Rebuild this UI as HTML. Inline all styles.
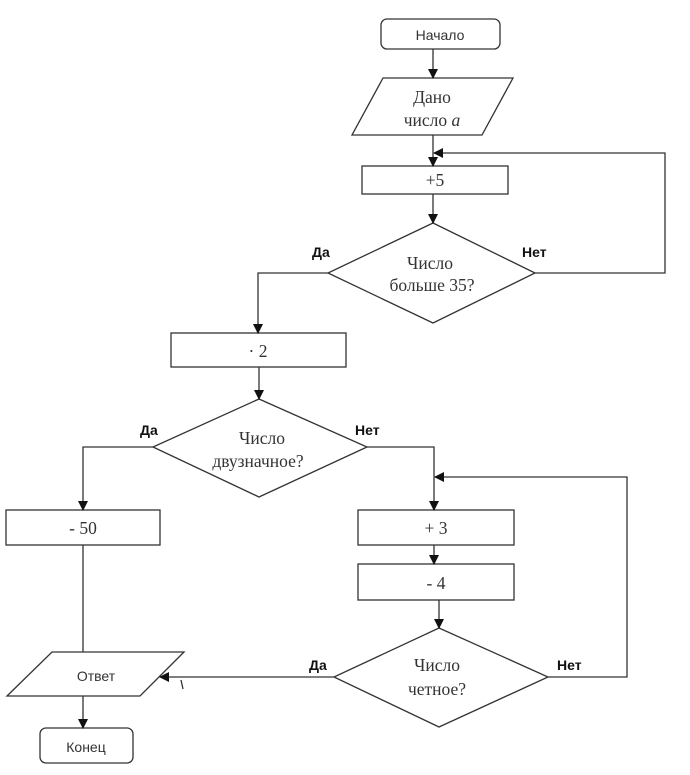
<!DOCTYPE html>
<html><head><meta charset="utf-8"><style>
html,body{margin:0;padding:0;background:#fff;}
svg{display:block;}
.s{font-family:"Liberation Serif","Noto Serif CJK SC",serif;font-size:17.5px;fill:#333;}
.a{font-family:"Liberation Sans","Noto Sans CJK SC",sans-serif;font-size:14px;fill:#333;}
.b{font-family:"Liberation Sans","Noto Sans CJK SC",sans-serif;font-size:14px;font-weight:bold;fill:#111;}
</style></head><body>
<svg width="690" height="775" viewBox="0 0 690 775" xmlns="http://www.w3.org/2000/svg">
<defs><marker id="ar" markerWidth="10" markerHeight="10" refX="9" refY="5" orient="auto" markerUnits="userSpaceOnUse"><path d="M0,0 L10,5 L0,10 z" fill="#111"/></marker></defs>
<g fill="none" stroke="#333" stroke-width="1.3">
<rect x="381" y="19" width="119" height="30" rx="6"/>
<polygon points="383,78 513,78 482,135 352,135"/>
<rect x="362" y="166" width="146" height="28"/>
<polygon points="433,223 535,273 433,323 328,273"/>
<rect x="171" y="333" width="175" height="34"/>
<polygon points="259,399 367,447 259,497 153,447"/>
<rect x="6" y="510" width="154" height="35"/>
<rect x="358" y="510" width="156" height="35"/>
<rect x="358" y="564" width="156" height="36"/>
<polygon points="439,628 548,677 439,727 334,677"/>
<polygon points="52,652 184,652 140,696 7,696"/>
<rect x="40" y="728" width="93" height="35" rx="6"/>
<g marker-end="url(#ar)">
<line x1="433" y1="49" x2="433" y2="78"/>
<line x1="433" y1="135" x2="433" y2="166"/>
<line x1="433" y1="194" x2="433" y2="223"/>
<polyline points="535,273 665,273 665,153 434,153"/>
<polyline points="328,273 258,273 258,333"/>
<line x1="259" y1="367" x2="259" y2="399"/>
<polyline points="153,447 83,447 83,510"/>
<polyline points="367,447 434,447 434,510"/>
<line x1="434" y1="545" x2="434" y2="564"/>
<line x1="439" y1="600" x2="439" y2="628"/>
<polyline points="548,677 627,677 627,477 435,477"/>
<line x1="334" y1="677" x2="160" y2="677"/>
<line x1="83" y1="696" x2="83" y2="728"/>
</g>
<line x1="83" y1="545" x2="83" y2="652"/>
<line x1="181" y1="680" x2="183" y2="689"/>
</g>
<text class="a" x="440" y="40" text-anchor="middle">Начало</text>
<text class="s" x="432" y="103" text-anchor="middle">Дано</text>
<text class="s" x="432" y="126" text-anchor="middle">число <tspan font-style="italic">a</tspan></text>
<text class="s" x="435" y="186" text-anchor="middle">+5</text>
<text class="s" x="430" y="269" text-anchor="middle">Число</text>
<text class="s" x="432" y="291" text-anchor="middle">больше 35?</text>
<text class="b" x="312" y="257">Да</text>
<text class="b" x="522" y="257">Нет</text>
<text class="s" x="258" y="357" text-anchor="middle">· 2</text>
<text class="s" x="262" y="444" text-anchor="middle">Число</text>
<text class="s" x="258" y="467" text-anchor="middle">двузначное?</text>
<text class="b" x="140" y="435">Да</text>
<text class="b" x="355" y="435">Нет</text>
<text class="s" x="83" y="534" text-anchor="middle">- 50</text>
<text class="s" x="436" y="534" text-anchor="middle">+ 3</text>
<text class="s" x="436" y="589" text-anchor="middle">- 4</text>
<text class="s" x="437" y="671" text-anchor="middle">Число</text>
<text class="s" x="437" y="695" text-anchor="middle">четное?</text>
<text class="b" x="309" y="670">Да</text>
<text class="b" x="557" y="670">Нет</text>
<text class="a" x="96" y="681" text-anchor="middle">Ответ</text>
<text class="a" x="86" y="752" text-anchor="middle">Конец</text>
</svg>
</body></html>
